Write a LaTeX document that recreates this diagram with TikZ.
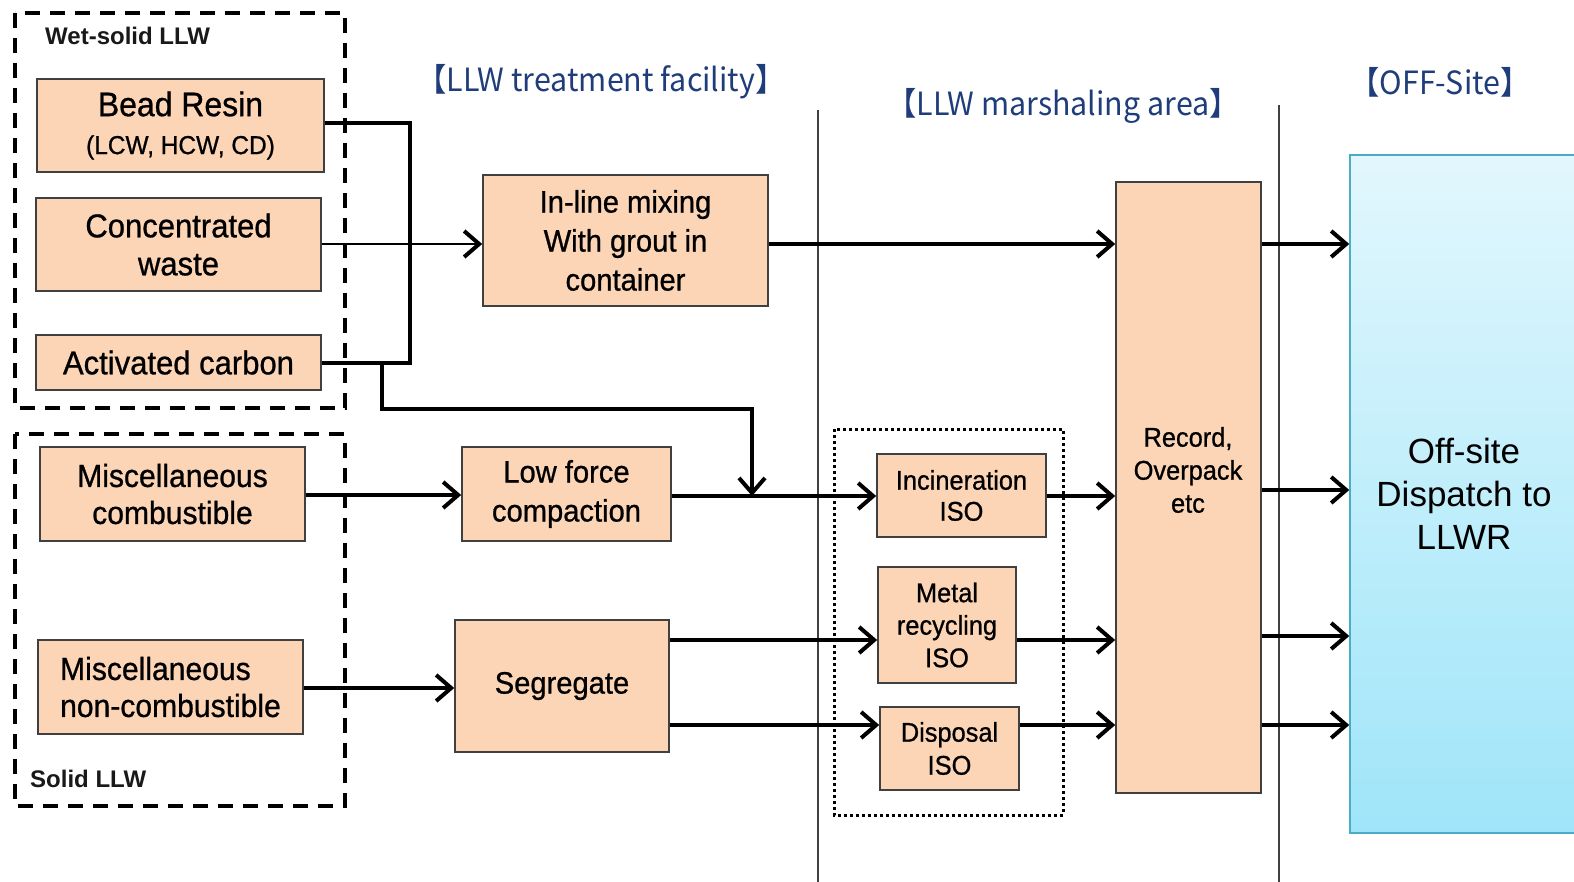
\documentclass[tikz,border=0pt]{standalone}
\usepackage{fontspec}
\usetikzlibrary{arrows.meta}
\newfontfamily\bxfont[FakeStretch=0.94,FakeBold=0.8]{Liberation Sans}
\newfontfamily\lbfont{Liberation Sans}
\newfontfamily\hdfont[FakeStretch=0.95]{Noto Sans CJK JP}
\newcommand\setfs[2]{\fontsize{#1}{#2}\selectfont}
\definecolor{peach}{HTML}{FBD5B5}
\definecolor{edge}{HTML}{404040}
\definecolor{hdblue}{HTML}{1F3D7A}
\definecolor{cyantop}{HTML}{E2F7FD}
\definecolor{cyanbot}{HTML}{9FE5F9}
\definecolor{cyanedge}{HTML}{4BACC6}
\begin{document}
\begin{tikzpicture}[x=1pt,y=-1pt,
  box/.style={draw=edge, line width=1.6pt, fill=peach, inner sep=0pt, align=center, font=\bxfont},
  ln/.style={line width=4pt, black},
  arr/.style={ln, -{Straight Barb[length=15pt,width=26pt,line width=4pt]}},
  divider/.style={line width=1.8pt, draw=black!75},
  dashbox/.style={line width=3.2pt, dash pattern=on 15pt off 10pt},
  dotbox/.style={line width=3pt, dash pattern=on 3pt off 3pt},
  hdr/.style={font=\hdfont\setfs{32}{36}, text=hdblue, inner sep=0pt},
  grp/.style={font=\lbfont\bfseries\setfs{24}{28}, text=black!90, inner sep=0pt, anchor=west}
]
\useasboundingbox (0,0) rectangle (1574,882);
\fill[white] (0,0) rectangle (1574,882);

% group frames and dividers
\draw[dashbox] (15,13) rectangle (345,408);
\draw[dashbox] (15,434) rectangle (345,806);
\draw[dotbox] (834,429) rectangle (1063,815);
\draw[divider] (818,110) -- (818,882);
\draw[divider] (1279,105) -- (1279,882);

% labels
\node[grp] (wetlbl) at (45,36) {Wet-solid LLW};
\node[grp] (solidlbl) at (30,779) {Solid LLW};
\node[hdr] (h1) at (601,82) {【LLW treatment facility】};
\node[hdr] (h2) at (1063,106) {【LLW marshaling area】};
\node[hdr] (h3) at (1440,82) {【OFF-Site】};

% boxes
\node[box, minimum width=287pt, minimum height=93pt, font=\bxfont\setfs{34}{38}] (bead) at (180.5,125.5)
  {Bead Resin\\{\setfs{26}{32}(LCW, HCW, CD)}};
\node[box, minimum width=285pt, minimum height=93pt, font=\bxfont\setfs{33}{38}] (conc) at (178.5,244.5) {Concentrated\\waste};
\node[box, minimum width=285pt, minimum height=55pt, font=\bxfont\setfs{33}{38}] (carb) at (178.5,362.5) {Activated carbon};
\node[box, minimum width=285pt, minimum height=131pt, font=\bxfont\setfs{31}{39}] (mix) at (625.5,240.5) {In-line mixing\\With grout in\\container};
\node[box, minimum width=265pt, minimum height=94pt, font=\bxfont\setfs{32}{37}] (comb) at (172.5,494) {Miscellaneous\\combustible};
\node[box, minimum width=265pt, minimum height=94pt, font=\bxfont\setfs{32}{37}, align=left] (noncomb) at (170.5,687) {Miscellaneous\\non-combustible};
\node[box, minimum width=209pt, minimum height=94pt, font=\bxfont\setfs{31}{39}] (lowf) at (566.5,494) {Low force\\compaction};
\node[box, minimum width=214pt, minimum height=132pt, font=\bxfont\setfs{31}{37}] (segr) at (562,686) {Segregate};
\node[box, minimum width=169pt, minimum height=83pt, font=\bxfont\setfs{27}{31}] (incin) at (961.5,495.5) {Incineration\\ISO};
\node[box, minimum width=138pt, minimum height=116pt, font=\bxfont\setfs{27}{32.5}] (metal) at (947,625) {Metal\\recycling\\ISO};
\node[box, minimum width=139pt, minimum height=83pt, font=\bxfont\setfs{27}{33}] (disp) at (949.5,748.5) {Disposal\\ISO};
\node[box, minimum width=145pt, minimum height=611pt] (rec) at (1188.5,487.5) {};
\node[font=\bxfont\setfs{27}{33}, align=center, inner sep=0pt] (rectxt) at (1188,470) {Record,\\Overpack\\etc};
\node[draw=cyanedge, line width=1.5pt, top color=cyantop, bottom color=cyanbot,
      minimum width=228pt, minimum height=678pt, inner sep=0pt, align=center,
      font=\lbfont\setfs{35}{43}] (off) at (1464,494) {Off-site\\Dispatch to\\LLWR};

% lanes
\coordinate (l1) at (0,244);
\coordinate (l2) at (0,496);
\coordinate (l2b) at (0,490);
\coordinate (l3) at (0,640);
\coordinate (l3b) at (0,636);
\coordinate (l4) at (0,725);
\coordinate (busb) at (410,363);
\coordinate (br) at (382,363);
\coordinate (brd) at (752,409);

% connectors
\draw[ln] (bead.east |- 0,123) -| (busb) -- (carb.east |- busb);
\draw[arr, line width=2.8pt] (conc.east |- l1) -- (mix.west |- l1);
\draw[arr] (br) |- (brd) -- (brd |- l2);
\draw[arr] (comb.east |- 0,495) -- (lowf.west |- 0,495);
\draw[arr] (noncomb.east |- 0,688) -- (segr.west |- 0,688);
\draw[arr] (lowf.east |- l2) -- (incin.west |- l2);
\draw[arr] (segr.east |- l3) -- (metal.west |- l3);
\draw[arr] (segr.east |- l4) -- (disp.west |- l4);
\draw[arr] (mix.east |- l1) -- (rec.west |- l1);
\draw[arr] (incin.east |- l2) -- (rec.west |- l2);
\draw[arr] (metal.east |- l3) -- (rec.west |- l3);
\draw[arr] (disp.east |- l4) -- (rec.west |- l4);
\draw[arr] (rec.east |- l1) -- (off.west |- l1);
\draw[arr] (rec.east |- l2b) -- (off.west |- l2b);
\draw[arr] (rec.east |- l3b) -- (off.west |- l3b);
\draw[arr] (rec.east |- l4) -- (off.west |- l4);
\end{tikzpicture}
\end{document}
